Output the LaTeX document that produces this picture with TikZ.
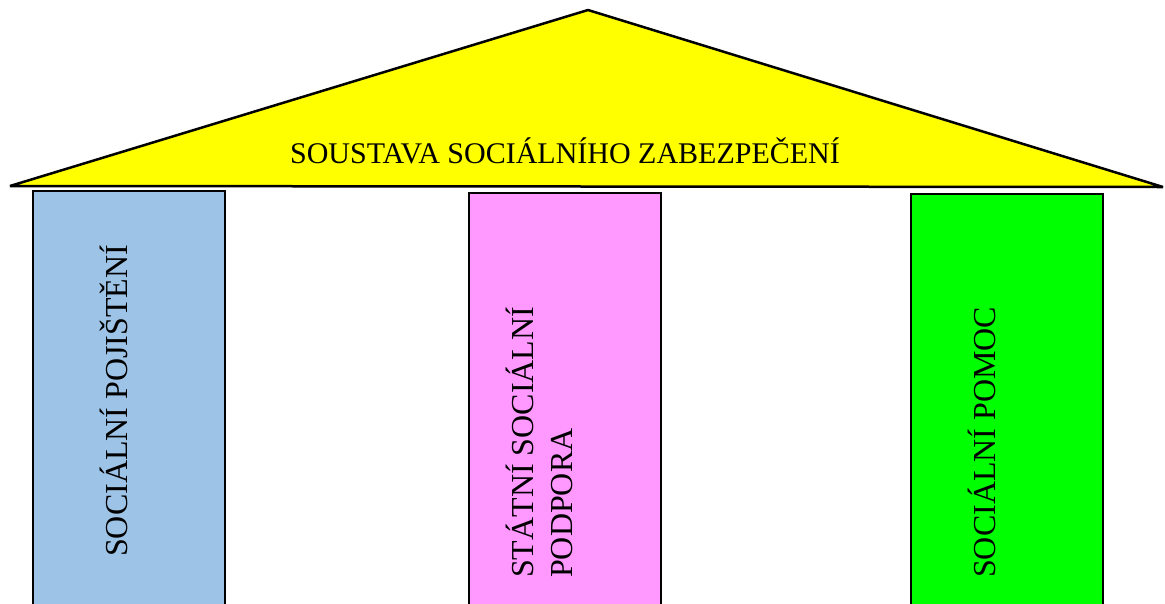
\documentclass[tikz,border=0pt]{standalone}
\usepackage{fontspec}
\setmainfont{Liberation Serif}
\definecolor{modra}{RGB}{157,195,230}
\definecolor{ruzova}{RGB}{255,153,255}
\definecolor{zelena}{RGB}{0,255,0}
\definecolor{zluta}{RGB}{255,255,0}

\begin{document}
\begin{tikzpicture}[x=1pt,y=-1pt]

\clip (0,0) rectangle (1165,603);

% Strecha
\draw[line width=2.5pt,line join=bevel,fill=zluta] (10,186) -- (588,10) -- (1163,187) -- cycle;

\node[inner sep=0,anchor=base] (strecha) at (565,163)
{\fontsize{30}{36}\selectfont SOUSTAVA SOCIÁLNÍHO ZABEZPEČENÍ};

% Pilire
\foreach \x/\y/\barva in {
33/191/modra,
469/193/ruzova,
911/194/zelena}
{
    \draw[line width=2pt,fill=\barva] (\x,\y) rectangle (\x+192,620);
}

\node[inner sep=0,rotate=90,anchor=base west] (pojisteni) at (127,557)
{\fontsize{32}{38}\selectfont SOCIÁLNÍ POJIŠTĚNÍ};

\node[inner sep=0,rotate=90,anchor=base west] (podpora) at (533,578)
{\fontsize{32}{38}\selectfont STÁTNÍ SOCIÁLNÍ};
\node[inner sep=0,rotate=90,anchor=base west] (podpora2) at (572,578)
{\fontsize{32}{38}\selectfont PODPORA};

\node[inner sep=0,rotate=90,anchor=base west] (pomoc) at (995,578)
{\fontsize{32}{38}\selectfont SOCIÁLNÍ POMOC};

\end{tikzpicture}
\end{document}
